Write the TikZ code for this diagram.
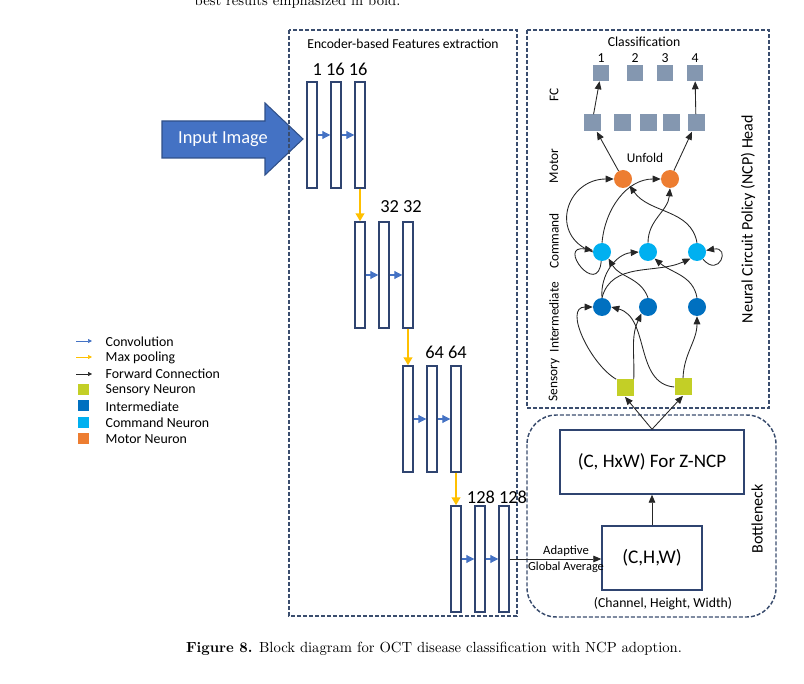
\documentclass[tikz,border=0pt]{standalone}
\usepackage{fontspec}
\setmainfont{Carlito}
\newfontfamily\capfont{Latin Modern Roman}
\usetikzlibrary{arrows.meta}
\definecolor{navy}{HTML}{2F4470}
\definecolor{boxline}{HTML}{3A4D6E}
\definecolor{convblue}{HTML}{4472C4}
\definecolor{poolyellow}{HTML}{FFC000}
\definecolor{sensorycol}{HTML}{C3CF26}
\definecolor{intercol}{HTML}{0070C0}
\definecolor{commandcol}{HTML}{00B0F0}
\definecolor{motorcol}{HTML}{ED7D31}
\definecolor{fccol}{HTML}{8497B0}
\definecolor{wire}{HTML}{262626}
\tikzset{
  fs/.style={font=\fontsize{#1}{#1}\selectfont},
  bar/.style={draw=navy,line width=1.1pt,fill=white,minimum width=7.5pt,minimum height=79.5pt,inner sep=0pt},
  conv/.style={convblue,line width=0.8pt,-{Triangle[length=6pt,width=6pt]}},
  pool/.style={poolyellow,line width=1.5pt,-{Triangle[length=6pt,width=6.5pt]}},
  fwd/.style={wire,line width=0.65pt,-{Triangle[length=6pt,width=5pt]}},
  dashbox/.style={boxline,line width=1.1pt,dash pattern=on 3pt off 1.5pt},
  block/.style={draw=navy,line width=1.1pt,inner sep=0pt,minimum height=48pt},
  neuron/.style={circle,inner sep=0pt,minimum size=13.5pt},
  cell/.style={rectangle,inner sep=0pt,minimum size=12pt},
}
\begin{document}
\begin{tikzpicture}[x=0.75pt,y=0.75pt]
  \useasboundingbox (0,0) rectangle (804,683);
  \clip (0,0) rectangle (804,683);

  \node[font=\capfont\fontsize{11}{13}\selectfont,anchor=base west] (prevline) at (190,677) {best results emphasized in bold.};

  \draw[fill=convblue,draw=convblue!70!black,line width=0.8pt] (162,562) -- (265,562) -- (265,580) -- (303,544) -- (265,508) -- (265,525) -- (162,525) -- cycle;
  \node[fs=13.8,white] (input) at (223,544) {Input Image};

  \draw[dashbox] (289,653) rectangle (517,67);
  \draw[dashbox] (527,653) rectangle (769,275);
  \draw[dashbox,rounded corners=22pt] (527,268) rectangle (776,66);

  \node[fs=10.2] (enctitle) at (403,639) {Encoder-based Features extraction};

  % encoder columns
  \foreach \g/\x/\y in {1/312/548,2/360/408,3/408/264,4/456/124}{
    \foreach \k in {0,1,2}
      \node[bar] (b\g\k) at (\x+24*\k,\y) {};
    \draw[conv] (b\g0.east) -- (b\g1.west);
    \draw[conv] (b\g1.east) -- (b\g2.west);
  }
  \foreach \a/\b in {1/2,2/3,3/4}
    \draw[pool] (b\a2.south) -- (b\b0.north);

  \node[fs=13.8] (ch1) at (340,614) {1 16 16};
  \node[fs=13.8] (ch2) at (401,476) {32 32};
  \node[fs=13.8] (ch3) at (446,331) {64 64};
  \node[fs=13.8] (ch4) at (497,186) {128 128};

  % bottleneck
  \node[block,minimum width=138pt,fs=14.3] (znc) at (652,221) {(C, HxW) For Z-NCP};
  \node[block,minimum width=75pt,fs=14.5] (chw) at (652,125) {(C,H,W)};
  \node[fs=10.3] (chwnote) at (663,79) {(Channel, Height, Width)};
  \node[fs=12,rotate=90] (bottle) at (757,164) {Bottleneck};
  \draw[fwd] (chw) -- (znc);
  \draw[fwd] (b42.east) -- (b42.east -| chw.west);
  \node[fs=9.5] (adapt) at (566,132) {Adaptive};
  \node[fs=9.3] (gavg) at (566,116) {Global Average};

  % NCP head
  \node[fs=12,rotate=90] (ncphead) at (748,464) {Neural Circuit Policy (NCP) Head};
  \node[fs=10.3] (cls) at (644,641) {Classification};
  \foreach \x [count=\i] in {601,635,665,695}{
    \node[cell,fill=fccol] (out\i) at (\x,610) {};
    \node[fs=10.3] (num\i) at (\x,625) {\i};
  }
  \foreach \x [count=\i] in {592,622,648,671,696}
    \node[cell,fill=fccol,minimum size=12.75pt] (fc\i) at (\x,560) {};
  \node[fs=10] (unfold) at (645,525) {Unfold};

  \node[fs=10,rotate=90] (lfc) at (554,588) {FC};
  \node[fs=10,rotate=90] (lmot) at (554,517) {Motor};
  \node[fs=10,rotate=90] (lcom) at (554,442) {Command};
  \node[fs=10,rotate=90] (lint) at (554,366) {Intermediate};
  \node[fs=10,rotate=90] (lsen) at (554,303) {Sensory};

  \begin{scope}[every node/.style={neuron}]
    \node[fill=motorcol] at (623,504) (m1){};
    \node[fill=motorcol] at (670,504) (m2){};
    \node[fill=commandcol] at (602,431) (c1){};
    \node[fill=commandcol] at (648,431) (c2){};
    \node[fill=commandcol] at (697,431) (c3){};
    \node[fill=intercol] at (602,376) (i1){};
    \node[fill=intercol] at (648,376) (i2){};
    \node[fill=intercol] at (697,376) (i3){};
  \end{scope}
  \begin{scope}[every node/.style={cell,fill=sensorycol,minimum size=12.75pt}]
    \node at (625,295) (s1){};
    \node at (683,296) (s2){};
  \end{scope}

  \begin{scope}[fwd]
    \path (znc.north) edge (s1.south) edge (s2.south);
    \path (s1.north west) edge[out=150,in=180] (i1.west)
          (s1.north east) edge[out=88,in=245] (i2.south west);
    \path (s2.west) edge[out=175,in=-15] (i1.east)
          (s2.north) edge[out=88,in=270] (i3.south);
    \path (i1.north) edge[out=95,in=185] (c2.west) edge[out=75,in=205] (c3.south west);
    \path (i2.north) edge[out=110,in=-60] (c1.south east);
    \path (i3.north) edge[out=100,in=-40] (c2.south east);
    \path (c1) edge[out=265,in=170,looseness=7] (c1);
    \path (c3) edge[out=-50,in=10,looseness=7] (c3);
    \path (c1.west) edge[out=160,in=180,looseness=1.6] (m1.west);
    \path (c1.north) edge[out=85,in=180] (m2.west);
    \path (c2.north) edge[out=90,in=265] (m2.south);
    \path (c3.north) edge[out=100,in=-55] (m1.south east);
    \path (m1) edge (fc1) (m2) edge (fc5);
    \path (fc1) edge (out1) (fc5) edge (out4);
  \end{scope}

  % legend
  \foreach \t [count=\i] in {Convolution,Max pooling,Forward Connection,Sensory Neuron,Intermediate,Command Neuron,Motor Neuron}
    \node[fs=10.4,anchor=west] (leg\i) at (101,358-16.3*\i) {\t};
  \coordinate (lga) at (76,342); \coordinate (lgb) at (92,342);
  \coordinate (lya) at (76,326); \coordinate (lyb) at (92,326);
  \coordinate (lka) at (76,309); \coordinate (lkb) at (92,309);
  \draw[conv,line width=0.5pt,-{Triangle[length=3pt,width=3pt]}] (lga) -- (lgb);
  \draw[pool,line width=0.5pt,-{Triangle[length=3pt,width=3pt]}] (lya) -- (lyb);
  \draw[fwd,line width=0.4pt,-{Triangle[length=3pt,width=3pt]}] (lka) -- (lkb);
  \begin{scope}[every node/.style={cell,minimum size=8.25pt}]
    \node[fill=sensorycol] at (83,293) (lsq1){};
    \node[fill=intercol] at (83,277) (lsq2){};
    \node[fill=commandcol] at (83,260) (lsq3){};
    \node[fill=motorcol] at (83,244) (lsq4){};
  \end{scope}

  \node[font=\capfont\fontsize{11}{13}\selectfont] (caption) at (434,34) {\textbf{Figure 8.} Block diagram for OCT disease classification with NCP adoption.};
\end{tikzpicture}
\end{document}
